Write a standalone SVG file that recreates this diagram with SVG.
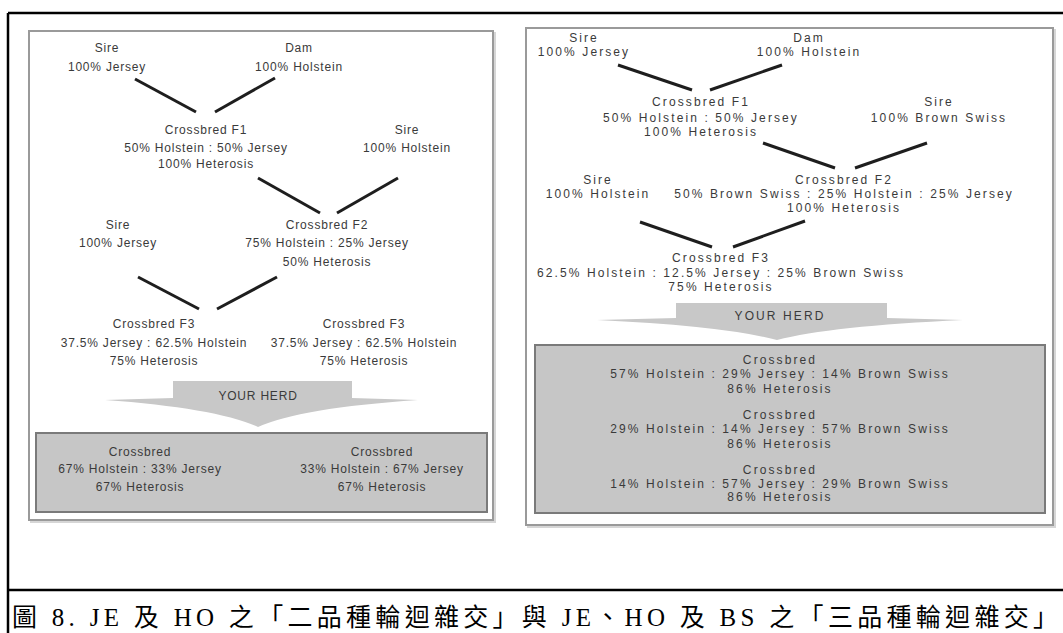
<svg xmlns="http://www.w3.org/2000/svg" width="1063" height="633" viewBox="0 0 1063 633">
<style>
.frame{fill:none;stroke:#000;stroke-width:2.5}
.panel{fill:#fff;stroke:#9a9a9a;stroke-width:2}
.panelsh{fill:none;stroke:#d6d6d6;stroke-width:2}
.box{fill:#c6c6c6;stroke:#7a7a7a;stroke-width:2}
.arrow{fill:#c8c8c8}
.conn{stroke:#1e1e1e;stroke-width:3;fill:none}
text{font-family:"Liberation Sans",Arial,sans-serif;fill:#3a3a3a;text-anchor:middle}
.l{font-size:12px;letter-spacing:0.8px}
.r{font-size:12px;letter-spacing:2.1px}
.cap{font-family:"Liberation Serif","Noto Sans CJK TC",serif;font-size:25px;fill:#000;text-anchor:start}
</style>
<rect width="1063" height="633" fill="#fff"/>
<g id="frame">
<line class="frame" x1="8" y1="13" x2="1063" y2="13"/>
<line class="frame" x1="8" y1="13" x2="8" y2="633"/>
<line class="frame" x1="8" y1="590" x2="1063" y2="590"/>
</g>
<g id="left-panel">
<rect class="panelsh" x="31" y="33" width="464" height="489"/>
<rect class="panel" x="29" y="31" width="464" height="489"/>
<rect class="box" x="36" y="433" width="451" height="79"/>
<path class="arrow" d="M173,381 H352 V398 L418,400 Q300,408 258,427 Q216,408 105,400 L173,398 Z"/>
</g>
<g id="right-panel">
<rect class="panelsh" x="528" y="30" width="527" height="497"/>
<rect class="panel" x="526" y="28" width="527" height="497"/>
<rect class="box" x="535" y="345" width="510" height="168"/>
<path class="arrow" d="M676,303 H887 V318 L963,320 Q830,326 777,340 Q724,326 597,320 L676,318 Z"/>
</g>
<g id="connectors">
<line class="conn" x1="135" y1="79" x2="196" y2="112"/>
<line class="conn" x1="275" y1="78" x2="215" y2="112"/>
<line class="conn" x1="258" y1="178" x2="320" y2="213"/>
<line class="conn" x1="398" y1="178" x2="337" y2="213"/>
<line class="conn" x1="138" y1="277" x2="199" y2="309"/>
<line class="conn" x1="277" y1="277" x2="217" y2="309"/>
<line class="conn" x1="618" y1="65" x2="692" y2="90"/>
<line class="conn" x1="782" y1="65" x2="710" y2="90"/>
<line class="conn" x1="763" y1="143" x2="835" y2="168"/>
<line class="conn" x1="927" y1="143" x2="855" y2="168"/>
<line class="conn" x1="640" y1="222" x2="712" y2="247"/>
<line class="conn" x1="805" y1="221" x2="733" y2="247"/>
</g>
<g id="L-sire1" class="l"><text x="107" y="52">Sire</text><text x="107" y="71">100% Jersey</text></g>
<g id="L-dam" class="l"><text x="299" y="52">Dam</text><text x="299" y="71">100% Holstein</text></g>
<g id="L-f1" class="l"><text x="206" y="134">Crossbred F1</text><text x="206" y="152">50% Holstein : 50% Jersey</text><text x="206" y="168">100% Heterosis</text></g>
<g id="L-sire2" class="l"><text x="407" y="134">Sire</text><text x="407" y="152">100% Holstein</text></g>
<g id="L-sire3" class="l"><text x="118" y="229">Sire</text><text x="118" y="247">100% Jersey</text></g>
<g id="L-f2" class="l"><text x="327" y="229">Crossbred F2</text><text x="327" y="247">75% Holstein : 25% Jersey</text><text x="327" y="266">50% Heterosis</text></g>
<g id="L-f3a" class="l"><text x="154" y="328">Crossbred F3</text><text x="154" y="347">37.5% Jersey : 62.5% Holstein</text><text x="154" y="365">75% Heterosis</text></g>
<g id="L-f3b" class="l"><text x="364" y="328">Crossbred F3</text><text x="364" y="347">37.5% Jersey : 62.5% Holstein</text><text x="364" y="365">75% Heterosis</text></g>
<g id="L-herd" class="l"><text x="258" y="400">YOUR HERD</text></g>
<g id="L-cb1" class="l"><text x="140" y="456">Crossbred</text><text x="140" y="473">67% Holstein : 33% Jersey</text><text x="140" y="491">67% Heterosis</text></g>
<g id="L-cb2" class="l"><text x="382" y="456">Crossbred</text><text x="382" y="473">33% Holstein : 67% Jersey</text><text x="382" y="491">67% Heterosis</text></g>
<g id="R-sire1" class="r"><text x="584" y="42">Sire</text><text x="584" y="56">100% Jersey</text></g>
<g id="R-dam" class="r"><text x="809" y="42">Dam</text><text x="809" y="56">100% Holstein</text></g>
<g id="R-f1" class="r"><text x="701" y="106">Crossbred F1</text><text x="701" y="122">50% Holstein : 50% Jersey</text><text x="701" y="136">100% Heterosis</text></g>
<g id="R-sire2" class="r"><text x="939" y="106">Sire</text><text x="939" y="122">100% Brown Swiss</text></g>
<g id="R-sire3" class="r"><text x="598" y="184">Sire</text><text x="598" y="198">100% Holstein</text></g>
<g id="R-f2" class="r"><text x="844" y="184">Crossbred F2</text><text x="844" y="198">50% Brown Swiss : 25% Holstein : 25% Jersey</text><text x="844" y="212">100% Heterosis</text></g>
<g id="R-f3" class="r"><text x="721" y="262">Crossbred F3</text><text x="721" y="277">62.5% Holstein : 12.5% Jersey : 25% Brown Swiss</text><text x="721" y="291">75% Heterosis</text></g>
<g id="R-herd" class="r"><text x="780" y="320">YOUR HERD</text></g>
<g id="R-cb1" class="r"><text x="780" y="364">Crossbred</text><text x="780" y="378">57% Holstein : 29% Jersey : 14% Brown Swiss</text><text x="780" y="393">86% Heterosis</text></g>
<g id="R-cb2" class="r"><text x="780" y="419">Crossbred</text><text x="780" y="433">29% Holstein : 14% Jersey : 57% Brown Swiss</text><text x="780" y="448">86% Heterosis</text></g>
<g id="R-cb3" class="r"><text x="780" y="474">Crossbred</text><text x="780" y="488">14% Holstein : 57% Jersey : 29% Brown Swiss</text><text x="780" y="501">86% Heterosis</text></g>
<g id="caption"><text class="cap" x="12" y="626" textLength="1046" lengthAdjust="spacing">圖 8. JE 及 HO 之「二品種輪迴雜交」與 JE、HO 及 BS 之「三品種輪迴雜交」</text></g>
</svg>
